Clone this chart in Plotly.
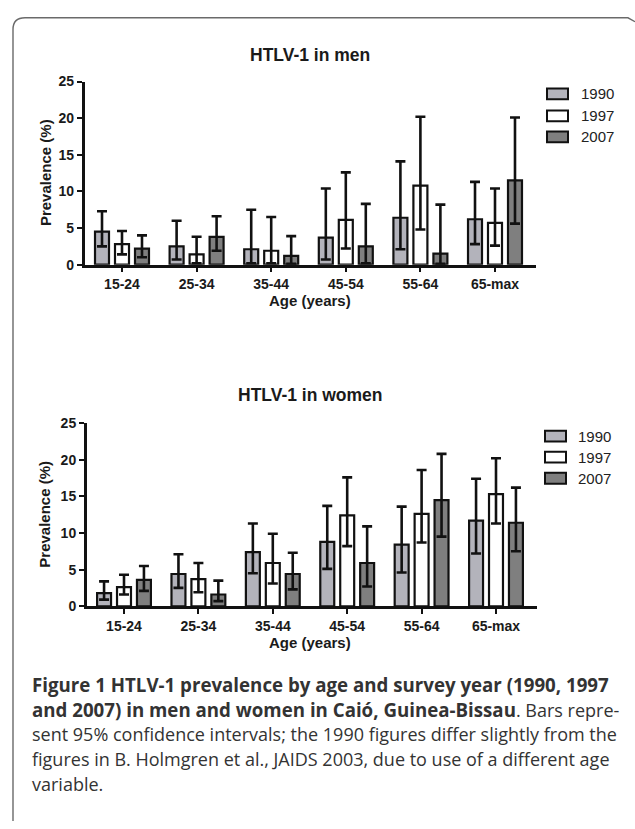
import plotly.graph_objects as go

W, H = 635, 829

ages = ["15-24", "25-34", "35-44", "45-54", "55-64", "65-max"]
years = ["1990", "1997", "2007"]

men_1990 = [4.5, 2.5, 2.1, 3.7, 6.4, 6.2]
men_1990_lo = [2.5, 0.7, 0.2, 0.7, 2.1, 2.8]
men_1990_hi = [7.3, 6.0, 7.5, 10.4, 14.1, 11.3]
men_1997 = [2.8, 1.4, 1.9, 6.1, 10.8, 5.7]
men_1997_lo = [1.4, 0.2, 0.2, 2.2, 4.8, 2.6]
men_1997_hi = [4.6, 3.8, 6.5, 12.6, 20.2, 10.4]
men_2007 = [2.2, 3.8, 1.2, 2.5, 1.5, 11.5]
men_2007_lo = [1.0, 1.9, 0.1, 0.2, 0.1, 5.6]
men_2007_hi = [4.0, 6.6, 3.9, 8.3, 8.2, 20.1]

women_1990 = [1.8, 4.4, 7.4, 8.8, 8.4, 11.7]
women_1990_lo = [0.9, 2.5, 4.5, 5.1, 4.6, 7.2]
women_1990_hi = [3.4, 7.1, 11.3, 13.7, 13.6, 17.4]
women_1997 = [2.6, 3.7, 5.9, 12.4, 12.6, 15.3]
women_1997_lo = [1.6, 1.9, 3.1, 8.2, 8.7, 11.3]
women_1997_hi = [4.3, 5.9, 9.9, 17.6, 18.6, 20.2]
women_2007 = [3.6, 1.6, 4.4, 5.9, 14.5, 11.4]
women_2007_lo = [2.1, 0.7, 2.3, 2.7, 9.5, 7.5]
women_2007_hi = [5.5, 3.5, 7.3, 10.9, 20.8, 16.2]

y_ticks = [0, 5, 10, 15, 20, 25]

panel_titles = ["HTLV-1 in men", "HTLV-1 in women"]
y_title = "Prevalence (%)"
x_title = "Age (years)"

BOLD = '<b><span style="font-size:18.7px">{}</span></b>'
caption_lines = [
    BOLD.format("Figure 1 HTLV-1 prevalence by age and survey year (1990, 1997"),
    BOLD.format("and 2007) in men and women in Caió, Guinea-Bissau") + ". Bars repre-",
    "sent 95% confidence intervals; the 1990 figures differ slightly from the",
    "figures in B. Holmgren et al., JAIDS 2003, due to use of a different age",
    "variable.",
]

fills = ["#b3b3bb", "#ffffff", "#7f7f7f"]


def px(x):
    return x / W


def py(y):
    return 1 - y / H


ARIAL = "Liberation Sans, Arial, sans-serif"
CAP = "Open Sans, Noto Sans, sans-serif"

fig = go.Figure()

panels = [
    dict(xa="x", ya="y",
         series=[(men_1990, men_1990_lo, men_1990_hi),
                 (men_1997, men_1997_lo, men_1997_hi),
                 (men_2007, men_2007_lo, men_2007_hi)]),
    dict(xa="x2", ya="y2",
         series=[(women_1990, women_1990_lo, women_1990_hi),
                 (women_1997, women_1997_lo, women_1997_hi),
                 (women_2007, women_2007_lo, women_2007_hi)]),
]

for p in panels:
    for i, (vals, lo, hi) in enumerate(p["series"]):
        fig.add_trace(go.Bar(
            x=ages, y=vals, name=years[i], showlegend=False,
            xaxis=p["xa"], yaxis=p["ya"], offsetgroup=str(i),
            marker=dict(color=fills[i], line=dict(color="#111111", width=2.2)),
            error_y=dict(type="data", symmetric=False,
                         array=[h - v for h, v in zip(hi, vals)],
                         arrayminus=[v - l for v, l in zip(vals, lo)],
                         color="#111111", thickness=2.6, width=5),
        ))

# geometry (pixels)
men_x0, step_m = 84.7, 74.6
wom_x0, step_w = 86.8, 74.4
span = 6.05
men_top, men_bot = 75, 261.7
wom_top, wom_bot = 423.3, 610

axis_common = dict(showline=True, linecolor="#111111", linewidth=2.6,
                   showgrid=False, zeroline=False, ticks="outside",
                   tickwidth=2.2, tickcolor="#111111",
                   tickfont=dict(family=ARIAL, size=14, color="#1a1a1a", weight="bold"))

fig.update_layout(
    width=W, height=H,
    margin=dict(l=0, r=0, t=0, b=0),
    paper_bgcolor="white", plot_bgcolor="white",
    barmode="group", bargap=0.196, bargroupgap=0.3,
    xaxis=dict(domain=[px(men_x0), px(men_x0 + span * step_m)], range=[-0.5, 5.55],
               anchor="y", ticklen=5, **axis_common),
    yaxis=dict(domain=[py(men_bot), py(men_top)], range=[0, 25], tickvals=y_ticks,
               anchor="x", ticklen=5, **axis_common),
    xaxis2=dict(domain=[px(wom_x0), px(wom_x0 + span * step_w)], range=[-0.5, 5.55],
                anchor="y2", ticklen=5, **axis_common),
    yaxis2=dict(domain=[py(wom_bot), py(wom_top)], range=[0, 25], tickvals=y_ticks,
                anchor="x2", ticklen=5, **axis_common),
)

ann = []
# panel titles
for t, yc in zip(panel_titles, [47.5, 394.5]):
    ann.append(dict(text=t, x=px(310), y=py(yc), xref="paper", yref="paper",
                    xanchor="center", yanchor="middle", showarrow=False,
                    font=dict(family=ARIAL, size=17.5, color="#1a1a1a", weight="bold")))
# axis titles
for yc, xt in [((men_top + men_bot) / 2, 298), ((wom_top + wom_bot) / 2, 647)]:
    ann.append(dict(text=y_title, x=px(45), y=py(yc), xref="paper", yref="paper",
                    xanchor="center", yanchor="middle", showarrow=False, textangle=-90,
                    font=dict(family=ARIAL, size=15, color="#1a1a1a", weight="bold")))
    ann.append(dict(text=x_title, x=px(310), y=py(xt), xref="paper", yref="paper",
                    xanchor="center", yanchor="middle", showarrow=False,
                    font=dict(family=ARIAL, size=15, color="#1a1a1a", weight="bold")))

shapes = []
# legends
for (bx0, tx, rows) in [(547, 579, [87.5, 110, 131.5]), (545, 576, [436.5, 458, 479.5])]:
    for i, yc in enumerate(rows):
        shapes.append(dict(type="rect", xref="paper", yref="paper",
                           x0=px(bx0), x1=px(bx0 + 21), y0=py(yc + 5.5), y1=py(yc - 5.5),
                           fillcolor=fills[i], line=dict(color="#111111", width=2)))
        ann.append(dict(text=years[i], x=px(tx), y=py(yc), xref="paper", yref="paper",
                        xanchor="left", yanchor="middle", showarrow=False,
                        font=dict(family=ARIAL, size=15, color="#222222")))

# caption
for i, line in enumerate(caption_lines):
    ann.append(dict(text=line, x=px(30), y=py(690 + i * 25.2), xref="paper", yref="paper",
                    xanchor="left", yanchor="middle", showarrow=False, align="left",
                    font=dict(family=CAP, size=18, color="#333333")))

# frame with rounded top-left corner
frame = (f"M {px(13)},{py(829)} L {px(13)},{py(22)} "
         f"Q {px(13)},{py(10)} {px(25)},{py(10)} L {px(628)},{py(10)} L {px(635)},{py(14)}")
shapes.append(dict(type="path", xref="paper", yref="paper", path=frame,
                   line=dict(color="#6a6a6a", width=1.4)))

fig.update_layout(annotations=ann, shapes=shapes)

fig.write_html("out.html", config={"displayModeBar": False},
               post_script="document.body.style.margin='0';document.body.style.padding='0';"
                           "document.documentElement.style.overflow='hidden';")
